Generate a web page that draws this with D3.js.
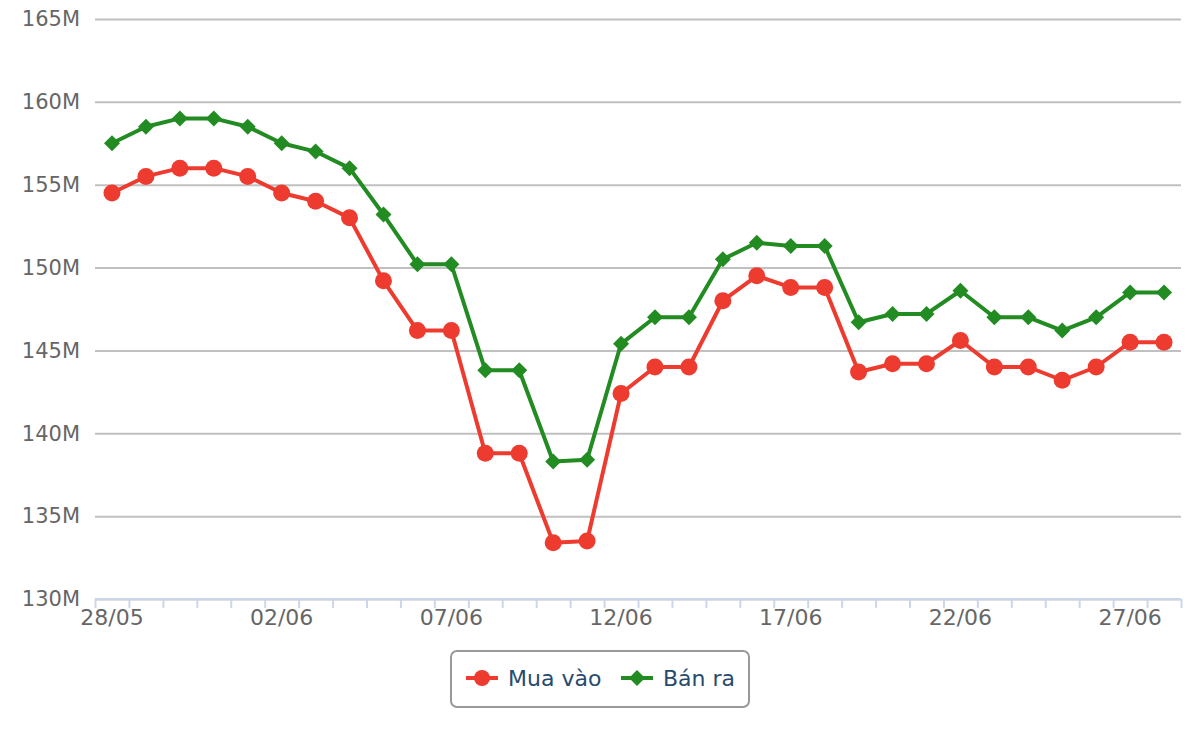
<!DOCTYPE html>
<html>
<head>
<meta charset="utf-8">
<script src="https://cdn.jsdelivr.net/npm/d3@7"></script>
<style>
  body { margin: 0; background: #fff; }
  text { font-family: "DejaVu Sans", Verdana, sans-serif; }
</style>
</head>
<body>
<div id="chart"></div>
<script>
// dates (categories)
var dates = ["28/05", "29/05", "30/05", "31/05", "01/06", "02/06", "03/06", "04/06",
  "05/06", "06/06", "07/06", "08/06", "09/06", "10/06", "11/06", "12/06",
  "13/06", "14/06", "15/06", "16/06", "17/06", "18/06", "19/06", "20/06",
  "21/06", "22/06", "23/06", "24/06", "25/06", "26/06", "27/06", "28/06"]

// Mua vao (million VND)
var buy = [154.5, 155.5, 156.0, 156.0, 155.5, 154.5, 154.0, 153.0,
  149.2, 146.2, 146.2, 138.8, 138.8, 133.4, 133.5, 142.4,
  144.0, 144.0, 148.0, 149.5, 148.8, 148.8, 143.7, 144.2,
  144.2, 145.6, 144.0, 144.0, 143.2, 144.0, 145.5, 145.5]

// Ban ra
var sell = [157.5, 158.5, 159.0, 159.0, 158.5, 157.5, 157.0, 156.0,
  153.2, 150.2, 150.2, 143.8, 143.8, 138.3, 138.4, 145.4,
  147.0, 147.0, 150.5, 151.5, 151.3, 151.3, 146.7, 147.2,
  147.2, 148.6, 147.0, 147.0, 146.2, 147.0, 148.5, 148.5]

var yTicks = [130, 135, 140, 145, 150, 155, 160, 165]
var seriesNames = ["Mua vào", "Bán ra"]

var width = 1200, height = 740
var margin = {top: 19, right: 19, bottom: 141, left: 95}

var svg = d3.select("#chart")
  .append("svg")
  .attr("width", width)
  .attr("height", height)

// X scale (categories, ticks between)
var xScale = d3.scaleBand()
  .domain(dates)
  .range([margin.left, width - margin.right])
  .padding(0)

var xEdges = d3.scaleLinear()
  .domain([0, dates.length])
  .range([margin.left, width - margin.right])

var xPos = function(i) { return xScale(dates[i]) + xScale.bandwidth() / 2 }

// Y scale
var yScale = d3.scaleLinear()
  .domain([130, 165])
  .range([height - margin.bottom, margin.top])

// Y grid
svg.append("g")
  .attr("class", "grid")
  .attr("transform", `translate(${margin.left},0)`)
  .call(d3.axisLeft(yScale)
    .tickValues(yTicks)
    .tickSize(-(width - margin.left - margin.right))
    .tickFormat(""))
  .call(g => g.select(".domain").remove())
  .selectAll("line")
  .style("stroke", "#c0c0c0")
  .style("stroke-width", 2)

// Y labels
svg.append("g")
  .attr("class", "y-axis")
  .attr("transform", `translate(${margin.left},0)`)
  .call(d3.axisLeft(yScale)
    .tickValues(yTicks)
    .tickSize(0)
    .tickPadding(15)
    .tickFormat(d => d + "M"))
  .call(g => g.select(".domain").remove())
  .selectAll("text")
  .style("font-size", "21px")
  .style("fill", "#666666")

// X tick marks (between categories)
svg.append("g")
  .attr("class", "x-ticks")
  .attr("transform", `translate(0,${height - margin.bottom})`)
  .call(d3.axisBottom(xEdges)
    .tickValues(d3.range(dates.length + 1))
    .tickSize(9)
    .tickFormat(""))
  .call(g => g.select(".domain")
    .attr("d", `M${margin.left},0H${width - margin.right}`)
    .style("stroke", "#ccd6eb")
    .style("stroke-width", 2))
  .selectAll(".tick line")
  .style("stroke", "#ccd6eb")
  .style("stroke-width", 2)

// X labels every 5 days
svg.append("g")
  .attr("class", "x-axis")
  .attr("transform", `translate(0,${height - margin.bottom})`)
  .call(d3.axisBottom(xScale)
    .tickValues(dates.filter((d, i) => i % 5 == 0))
    .tickSize(0)
    .tickPadding(10))
  .call(g => g.select(".domain").remove())
  .selectAll("text")
  .style("font-size", "22px")
  .style("fill", "#666666")

var colors = ["#ee3b2f", "#228b22"]

var line = d3.line()
  .x((d, i) => xPos(i))
  .y(d => yScale(d))

var linesG = svg.append("g").attr("class", "lines")

// Mua vao
linesG.append("path")
  .datum(buy)
  .attr("d", line)
  .attr("fill", "none")
  .style("stroke", colors[0])
  .style("stroke-width", 4)
  .style("stroke-linejoin", "round")

linesG.selectAll(".dot-buy")
  .data(buy)
  .enter()
  .append("circle")
  .attr("class", "dot-buy")
  .attr("cx", (d, i) => xPos(i))
  .attr("cy", d => yScale(d))
  .attr("r", 8.5)
  .style("fill", colors[0])

// Ban ra
linesG.append("path")
  .datum(sell)
  .attr("d", line)
  .attr("fill", "none")
  .style("stroke", colors[1])
  .style("stroke-width", 4)
  .style("stroke-linejoin", "round")

var diamond = "M0,-8L8,0L0,8L-8,0Z"

linesG.selectAll(".dot-sell")
  .data(sell)
  .enter()
  .append("path")
  .attr("class", "dot-sell")
  .attr("d", diamond)
  .attr("transform", (d, i) => `translate(${xPos(i)},${yScale(d)})`)
  .style("fill", colors[1])

// Legend
var legend = svg.append("g").attr("class", "legend")

legend.append("rect")
  .attr("x", 451)
  .attr("y", 651)
  .attr("width", 298)
  .attr("height", 56)
  .attr("rx", 6)
  .style("fill", "#fff")
  .style("stroke", "#999999")
  .style("stroke-width", 2)

var items = [
  {x: 466, name: seriesNames[0], color: colors[0], shape: "circle"},
  {x: 621, name: seriesNames[1], color: colors[1], shape: "diamond"}
]

items.forEach(function(it) {
  legend.append("line")
    .attr("x1", it.x).attr("x2", it.x + 32)
    .attr("y1", 678).attr("y2", 678)
    .style("stroke", it.color)
    .style("stroke-width", 4)
  if (it.shape == "circle") {
    legend.append("circle")
      .attr("cx", it.x + 16).attr("cy", 678).attr("r", 8)
      .style("fill", it.color)
  } else {
    legend.append("path")
      .attr("d", diamond)
      .attr("transform", `translate(${it.x + 16},678)`)
      .style("fill", it.color)
  }
  legend.append("text")
    .text(it.name)
    .attr("x", it.x + 42)
    .attr("y", 678)
    .attr("dy", "0.35em")
    .style("font-size", "22px")
    .style("fill", "#274b6d")
})
</script>
</body>
</html>
